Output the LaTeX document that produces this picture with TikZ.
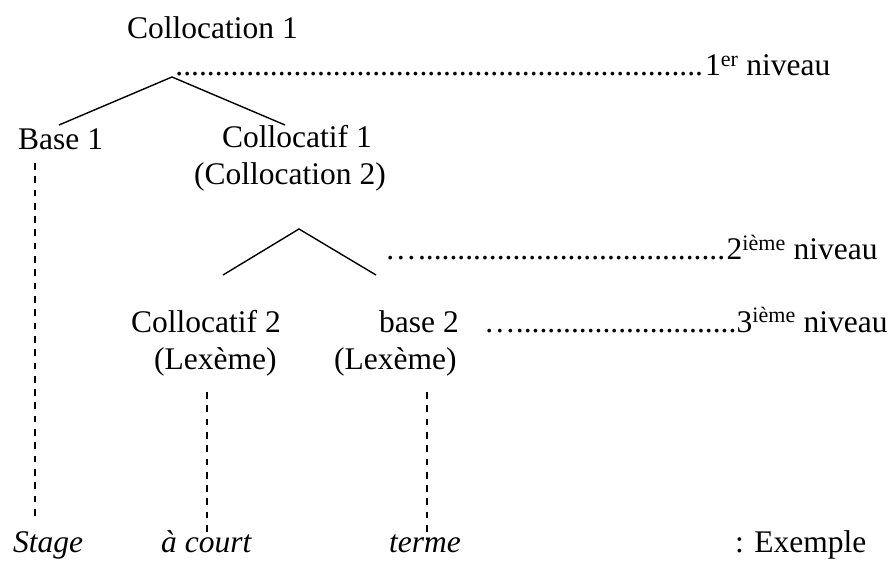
\documentclass[tikz,border=0pt]{standalone}
\usepackage{fontspec}
\setmainfont{Liberation Serif}
\newcommand\ldrs[1]{\hbox to #1{\cleaders\hbox to 7.875pt{\hss.\hss}\hfill}}
\begin{document}
\begin{tikzpicture}[x=1pt,y=-1pt,
  txt/.style={inner sep=0pt, anchor=base west, font=\fontsize{31.5}{36}\selectfont},
  branch/.style={line width=1.4pt},
  dashline/.style={line width=1.4pt, dash pattern=on 6.7pt off 6.6pt}]
\useasboundingbox (0,0) rectangle (894,561);
% texts
\node[txt] (coll1) at (127,39) {Collocation 1};
\node[txt] (lvl1) at (173,76) {\ldrs{532pt}1\textsuperscript{er} niveau};
\node[txt] (base1) at (18,150) {Base 1};
\node[txt] (c1) at (222,148) {Collocatif 1};
\node[txt] (c1b) at (194,185) {(Collocation 2)};
\node[txt] (lvl2) at (385,260) {…\ldrs{310pt}2\textsuperscript{ième} niveau};
\node[txt] (c2) at (131,332) {Collocatif 2};
\node[txt] (b2) at (379,332) {base 2};
\node[txt] (lvl3) at (484,332) {…\ldrs{221pt}3\textsuperscript{ième} niveau};
\node[txt] (c2b) at (154,369) {(Lexème)};
\node[txt] (b2b) at (334,369) {(Lexème)};
\node[txt] (stage) at (13,552) {\itshape Stage};
\node[txt] (court) at (161,552) {\itshape à court};
\node[txt] (terme) at (389,552) {\itshape terme};
\node[txt] (ex) at (735,552) {: Exemple};
% tree coordinates
\coordinate (apex1) at (172,77);
\coordinate (leg1l) at (59,125);
\coordinate (leg1r) at (285,125);
\coordinate (apex2) at (299,229);
\coordinate (leg2l) at (223,275);
\coordinate (leg2r) at (376,275);
\draw[branch] (leg1l) -- (apex1) -- (leg1r);
\draw[branch] (leg2l) -- (apex2) -- (leg2r);
% dashed links
\coordinate (d1a) at (35,163);
\coordinate (d1b) at (35,519);
\coordinate (d2a) at (207,392);
\coordinate (d2b) at (207,538);
\coordinate (d3a) at (427,392);
\coordinate (d3b) at (427,540);
\draw[dashline] (d1a) -- (d1b);
\draw[dashline] (d2a) -- (d2b);
\draw[dashline] (d3a) -- (d3b);
\end{tikzpicture}
\end{document}
